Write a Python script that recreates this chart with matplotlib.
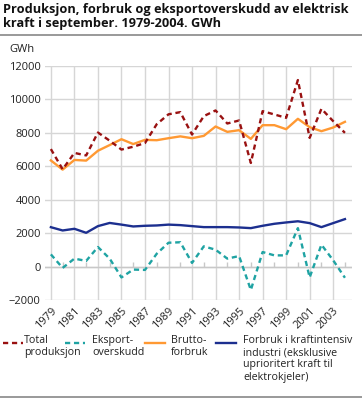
import matplotlib
matplotlib.use("Agg")
import matplotlib.pyplot as plt
from matplotlib.lines import Line2D
import numpy as np

plt.rcParams['font.family'] = ['Open Sans', 'DejaVu Sans']

years = list(range(1979, 2005))
total = [7030, 5820, 6800, 6650, 8020, 7530, 7000, 7170, 7390, 8520, 9110, 9240,
         7900, 9000, 9340, 8560, 8740, 6200, 9300, 9100, 8900, 11160, 7700, 9440, 8700, 8000]
eksport = [730, -80, 475, 340, 1170, 475, -650, -180, -200, 770, 1425, 1455,
           220, 1210, 1010, 475, 630, -1400, 870, 670, 670, 2300, -650, 1310, 375, -670]
brutto = [6350, 5800, 6380, 6340, 6930, 7270, 7620, 7330, 7580, 7560, 7680, 7790,
          7680, 7820, 8380, 8060, 8160, 7640, 8460, 8460, 8220, 8840, 8340, 8100, 8320, 8660]
industri = [2356, 2160, 2260, 2020, 2420, 2610, 2510, 2400, 2440, 2460, 2510, 2480,
            2420, 2360, 2360, 2360, 2340, 2300, 2440, 2560, 2640, 2710, 2600, 2360, 2600, 2840]
xticks = list(range(1979, 2004, 2))
yticks = list(range(-2000, 12001, 2000))
legend_labels = ["Total\nproduksjon", "Eksport-\noverskudd", "Brutto-\nforbruk",
                 "Forbruk i kraftintensiv\nindustri (eksklusive\nuprioritert kraft til\nelektrokjeler)"]
colors = ["#991111", "#1fa3a3", "#ff9933", "#1c2f8f"]
styles = [(0, (2.2, 1.6)), (0, (2.2, 1.6)), "-", "-"]

W, H = 362, 398
fig = plt.figure(figsize=(W/100, H/100), dpi=100)
ax = fig.add_axes([45/W, 1-300/H, (352-45)/W, (300-66)/H])

series = [total, eksport, brutto, industri]
order = [3, 2, 1, 0]
for i in order:
    ax.plot(years, series[i], color=colors[i], linestyle=styles[i], lw=1.7, zorder=3)

ax.set_xlim(1978.5, 2004.6)
ax.set_ylim(-2000, 12000)
ax.set_yticks(yticks)
ax.set_xticks(xticks)
ax.set_xticklabels([str(y) for y in xticks], rotation=45, ha='right', rotation_mode='anchor')
ax.tick_params(axis='both', length=0, labelsize=8, colors='#222222', pad=3)
ax.tick_params(axis='x', pad=4)
ax.grid(True, color='#d6d6d6', lw=1.0)
ax.set_axisbelow(True)
for s in ax.spines.values():
    s.set_visible(False)
ax.axhline(0, color='#c8c8c8', lw=1.0, zorder=1)
even_years = [y for y in years if y % 2 == 0]
ax.vlines(even_years, 0, 260, color='#c8c8c8', lw=1.0, zorder=1)

fig.text(3/W, 1-3/H, "Produksjon, forbruk og eksportoverskudd av elektrisk\nkraft i september. 1979-2004. GWh",
         ha='left', va='top', fontsize=9.2, fontweight='bold', linespacing=1.15, color='#111111')
fig.add_artist(Line2D([0, 1], [1-35/H, 1-35/H], color='#888888', lw=1.2))
fig.text(9/W, 1-50/H, "GWh", ha='left', va='center', fontsize=8, color='#222222')

# legend
hx = [3, 65, 145, 216]
tx = [24, 92, 171, 243]
hy = 1 - 343/H
for i in range(4):
    fig.add_artist(Line2D([hx[i]/W, (hx[i]+20)/W], [hy, hy], color=colors[i],
                          linestyle=styles[i], lw=1.7))
    fig.text(tx[i]/W, 1-335/H, legend_labels[i], ha='left', va='top', fontsize=7.7,
             color='#222222', linespacing=1.15)
fig.add_artist(Line2D([0, 1], [1-396.5/H, 1-396.5/H], color='#888888', lw=1.2))

fig.savefig("out.png", dpi=100)
